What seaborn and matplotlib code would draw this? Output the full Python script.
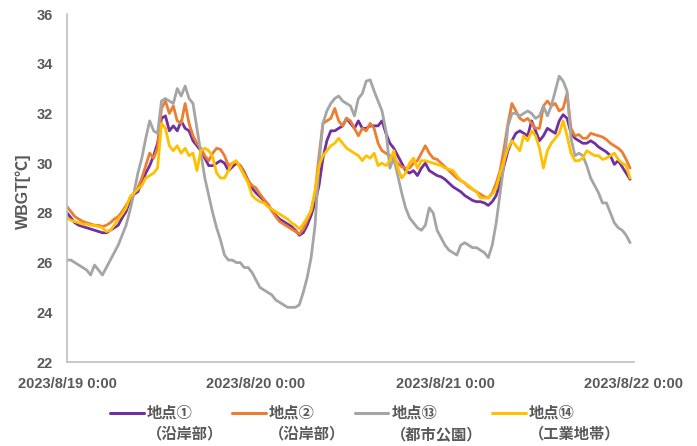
import matplotlib
matplotlib.use("Agg")
import matplotlib.pyplot as plt
import matplotlib.dates as mdates
from matplotlib.ticker import FuncFormatter
from matplotlib.legend_handler import HandlerLine2D
import pandas as pd
import seaborn as sns

# 30-minute WBGT readings, 2023/8/19 0:00 - 2023/8/21 23:30
start = "2023-08-19 00:00"
step = "30min"

site_labels = ["地点①\n（沿岸部）", "地点②\n（沿岸部）", "地点⑬\n（都市公園）", "地点⑭\n（工業地帯）"]
site_colors = ["#7030A0", "#ED7D31", "#A5A5A5", "#FFC000"]

wbgt_01 = [
    28.0, 27.8, 27.6, 27.5, 27.45, 27.4, 27.35, 27.3, 27.25, 27.2, 27.2, 27.3,
    27.4, 27.5, 27.8, 28.05, 28.5, 28.75, 28.85, 29.2, 29.6, 29.9, 30.3, 30.8,
    31.8, 31.9, 31.3, 31.5, 31.3, 31.7, 31.4, 31.3, 30.9, 30.7, 30.5, 30.2,
    29.9, 29.9, 30.0, 30.1, 30.0, 29.7, 29.85, 30.0, 29.9, 29.65, 29.3, 29.0,
    28.8, 28.65, 28.5, 28.35, 28.1, 27.9, 27.75, 27.65, 27.55, 27.45, 27.3, 27.1,
    27.2, 27.5, 27.9, 28.4, 29.1, 30.2, 30.9, 31.3, 31.3, 31.4, 31.5, 31.8,
    31.6, 31.4, 31.7, 31.4, 31.4, 31.5, 31.5, 31.5, 31.7, 31.2, 30.8, 30.6,
    30.3, 30.0, 29.7, 29.6, 29.7, 29.5, 29.8, 30.0, 29.7, 29.6, 29.5, 29.45,
    29.35, 29.2, 29.05, 28.95, 28.85, 28.7, 28.6, 28.5, 28.45, 28.45, 28.4, 28.3,
    28.45, 28.7, 29.2, 29.9, 30.5, 30.9, 31.2, 31.3, 31.2, 31.1, 31.7, 31.3,
    30.9, 31.1, 31.4, 31.3, 31.2, 31.7, 31.95, 31.8, 31.2, 31.0, 30.9, 30.8,
    30.8, 30.9, 30.8, 30.65, 30.55, 30.45, 30.3, 29.95, 30.1, 29.85, 29.6, 29.35,
]
wbgt_02 = [
    28.25, 28.05, 27.85, 27.75, 27.65, 27.6, 27.55, 27.5, 27.5, 27.45, 27.5, 27.6,
    27.75, 27.85, 28.05, 28.3, 28.55, 28.8, 29.0, 29.4, 29.9, 30.4, 30.2, 30.6,
    32.2, 32.5, 32.0, 32.3, 31.7, 31.6, 32.4, 31.6, 31.1, 30.8, 30.6, 30.3,
    30.1, 30.4, 30.6, 30.55, 30.3, 29.9, 30.0, 30.05, 29.9, 29.6, 29.3, 29.1,
    29.0, 28.75, 28.55, 28.35, 28.1, 27.85, 27.65, 27.55, 27.45, 27.35, 27.25, 27.15,
    27.35, 27.7, 28.1, 28.8, 30.3, 31.6, 31.7, 31.8, 32.2, 31.7, 31.5, 31.8,
    31.7, 31.4, 31.1, 31.4, 31.3, 31.6, 31.4, 30.8, 30.5, 30.4, 30.3, 30.2,
    30.0, 29.85, 29.8, 29.8, 30.0, 30.1, 30.4, 30.7, 30.4, 30.2, 30.15, 30.0,
    29.85, 29.7, 29.55, 29.4, 29.3, 29.2, 29.05, 28.95, 28.85, 28.75, 28.65, 28.6,
    28.8, 29.2, 29.7, 30.6, 31.6, 32.4, 32.1, 31.8, 31.7, 31.8, 31.6, 31.4,
    31.4, 32.3, 32.5, 32.3, 32.4, 32.1, 32.2, 32.8, 31.4, 31.1, 31.15, 31.0,
    31.0, 31.2, 31.15, 31.1, 31.05, 30.95, 30.8, 30.7, 30.6, 30.45, 30.15, 29.8,
]
wbgt_13 = [
    26.1, 26.1, 26.0, 25.9, 25.8, 25.7, 25.5, 25.9, 25.7, 25.5, 25.8, 26.1,
    26.4, 26.7, 27.1, 27.5, 28.1, 28.8, 29.6, 30.2, 31.0, 31.7, 31.3, 31.2,
    32.5, 32.6, 32.5, 32.4, 33.0, 32.7, 33.1, 32.6, 32.4, 31.4, 30.4, 29.4,
    28.7, 28.0, 27.4, 26.9, 26.3, 26.1, 26.1, 26.0, 26.0, 25.8, 25.8, 25.6,
    25.3, 25.0, 24.9, 24.8, 24.7, 24.5, 24.4, 24.3, 24.2, 24.2, 24.2, 24.3,
    24.8, 25.4, 26.2, 27.5, 30.0, 31.6, 32.1, 32.4, 32.6, 32.7, 32.5, 32.4,
    32.3, 31.9, 32.6, 32.8, 33.3, 33.35, 32.9, 32.5, 32.1, 31.3, 29.8, 30.2,
    29.5, 28.8, 28.2, 27.8, 27.6, 27.4, 27.3, 27.5, 28.2, 28.0, 27.3, 27.0,
    26.7, 26.5, 26.4, 26.3, 26.7, 26.8, 26.7, 26.6, 26.6, 26.5, 26.4, 26.2,
    26.7, 27.6, 28.8, 30.0, 31.5, 32.0, 32.0, 31.9, 32.0, 32.1, 32.0, 31.8,
    31.9, 32.3, 31.9, 32.3, 32.9, 33.5, 33.3, 32.9, 31.0, 30.3, 30.4, 30.3,
    29.9, 29.4, 29.1, 28.8, 28.4, 28.4, 28.0, 27.6, 27.4, 27.3, 27.1, 26.8,
]
wbgt_14 = [
    27.8, 27.7, 27.65, 27.6, 27.55, 27.55, 27.5, 27.5, 27.45, 27.4, 27.25, 27.3,
    27.5, 27.75, 27.95, 28.2, 28.65, 28.8, 28.95, 29.1, 29.4, 29.5, 29.6, 29.8,
    31.6, 31.4, 30.7, 30.5, 30.7, 30.4, 30.6, 30.3, 30.4, 29.7, 30.5, 30.6,
    30.5, 30.25, 29.6, 29.4, 29.4, 29.7, 30.0, 30.1, 29.8, 29.5, 29.2, 28.7,
    28.55, 28.45, 28.4, 28.25, 28.15, 28.05, 27.95, 27.85, 27.75, 27.6, 27.5, 27.35,
    27.55, 27.8, 28.1, 28.9, 29.9, 30.3, 30.5, 30.7, 30.8, 31.0, 30.8, 30.6,
    30.5, 30.4, 30.3, 30.1, 30.3, 30.2, 30.4, 29.9, 30.0, 29.9, 30.1, 30.5,
    29.8, 29.4, 29.6, 30.0, 30.2, 29.8, 30.1, 30.1, 30.05, 30.0, 29.95, 29.9,
    29.8, 29.75, 29.7, 29.5, 29.3, 29.2, 29.1, 28.95, 28.85, 28.6, 28.6, 28.6,
    28.75, 29.0, 29.6, 30.1, 30.6, 30.9, 30.7, 30.5, 31.1, 30.9, 31.3, 31.1,
    30.6, 29.8, 30.5, 30.8, 31.0, 31.2, 31.7, 31.1, 30.4, 30.1, 30.1, 30.2,
    30.5, 30.4, 30.3, 30.3, 30.15, 30.2, 30.3, 30.4, 30.15, 30.0, 29.9, 29.4,
]

y_ticks = [22, 24, 26, 28, 30, 32, 34, 36]
x_start, x_end = "2023-08-19", "2023-08-22"

series = [wbgt_01, wbgt_02, wbgt_13, wbgt_14]
times = pd.date_range(start, periods=len(wbgt_01), freq=step)
df = pd.concat(
    [pd.DataFrame({"時刻": times, "WBGT": vals, "地点": name})
     for name, vals in zip(site_labels, series)],
    ignore_index=True,
)

sns.set_theme(style="white")
plt.rcParams["font.family"] = ["Noto Sans CJK JP", "DejaVu Sans"]

text_color = "#595959"
axis_color = "#BFBFBF"
latin_font = ["Liberation Sans", "Noto Sans CJK JP", "DejaVu Sans"]

fig = plt.figure(figsize=(6.97, 4.46), dpi=100)
ax = fig.add_axes([67 / 697, 1 - 362 / 446, (634 - 67) / 697, (362 - 14) / 446])

sns.lineplot(
    data=df, x="時刻", y="WBGT", hue="地点", hue_order=site_labels,
    palette=dict(zip(site_labels, site_colors)), linewidth=2.0, ax=ax,
    legend=False,
)

ax.set_ylim(y_ticks[0], y_ticks[-1])
ax.set_yticks(y_ticks)
ax.set_xlim(pd.Timestamp(x_start), pd.Timestamp(x_end))
ax.xaxis.set_major_locator(mdates.DayLocator())


def fmt_date(v, pos):
    d = mdates.num2date(v)
    return f"{d.year}/{d.month}/{d.day} {d.hour}:{d.minute:02d}"


ax.xaxis.set_major_formatter(FuncFormatter(fmt_date))
ax.set_xlabel("")
ax.set_ylabel("WBGT[℃]", color=text_color, fontsize=11.5, fontweight="bold",
              family=latin_font)
ax.yaxis.set_label_coords(-0.063, 0.49)

for side in ["top", "right"]:
    ax.spines[side].set_visible(False)
for side in ["left", "bottom"]:
    ax.spines[side].set_color(axis_color)
    ax.spines[side].set_linewidth(1.2)

ax.tick_params(axis="both", length=0, colors=text_color, labelsize=10.5)
ax.tick_params(axis="x", pad=11)
ax.tick_params(axis="y", pad=10)
for lab in ax.get_xticklabels() + ax.get_yticklabels():
    lab.set_fontweight("bold")
    lab.set_family(latin_font)


class UpperLineHandler(HandlerLine2D):
    """Legend line drawn beside the first line of a two-line label."""

    def __init__(self, shift, **kw):
        super().__init__(**kw)
        self.shift = shift

    def create_artists(self, legend, orig_handle, xdescent, ydescent,
                       width, height, fontsize, trans):
        arts = super().create_artists(legend, orig_handle, xdescent, ydescent,
                                      width, height, fontsize, trans)
        for a in arts:
            a.set_ydata([y + self.shift for y in a.get_ydata()])
        return arts


handles = [plt.Line2D([], [], color=c, linewidth=2.2) for c in site_colors]
leg = fig.legend(
    handles, site_labels, loc="upper center", bbox_to_anchor=(0.524, 0.094),
    ncol=4, frameon=False, handlelength=2.2, handletextpad=0.2,
    columnspacing=0.6, borderpad=0, borderaxespad=0,
    prop={"weight": "bold", "size": 11},
    handler_map={h: UpperLineHandler(shift=8) for h in handles},
)
for t in leg.get_texts():
    t.set_color(text_color)
    t.set_linespacing(1.45)

fig.savefig("out.png", dpi=100)
